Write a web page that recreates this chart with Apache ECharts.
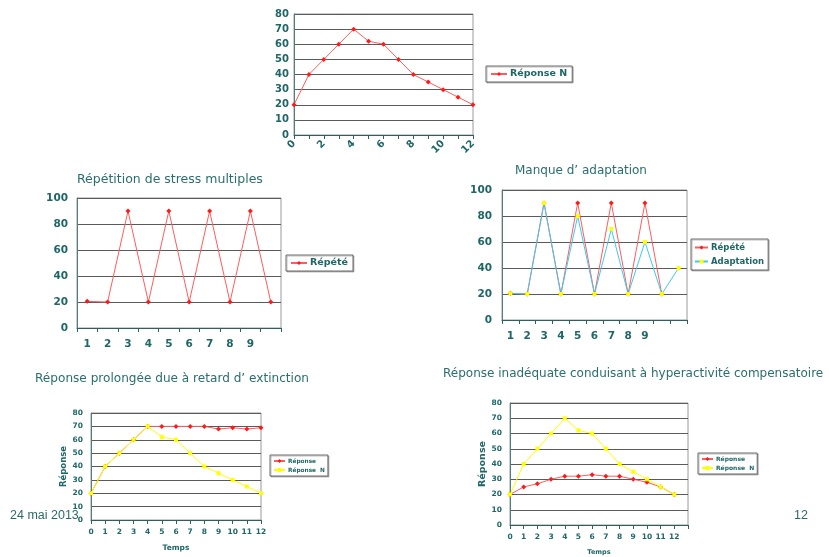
<!DOCTYPE html>
<html>
<head>
<meta charset="utf-8">
<script src="https://cdn.jsdelivr.net/npm/echarts@6/dist/echarts.min.js"></script>
<style>
html,body{margin:0;padding:0;background:#fff;}
#c{width:829px;height:557px;}
</style>
</head>
<body>
<div id="c"></div>
<script>
// ---------- DATA ----------
const timeCats = ['0','1','2','3','4','5','6','7','8','9','10','11','12'];
const timeCats14 = ['0','1','2','3','4','5','6','7','8','9','10','11','12',''];
const reponseN = [20,40,50,60,70,62,60,50,40,35,30,25,20];

const repCats10 = ['1','2','3','4','5','6','7','8','9',''];
const repete = [20.5,20,90,20,90,20,90,20,90,20];

const adaptCats11 = ['1','2','3','4','5','6','7','8','9','',''];
const repete3 = [20.5,20,90,20,90,20,90,20,90,20,null];
const adaptation = [20.5,20,90,20,80,20,70,20,60,20,40];

const reponseProlongee = [20,40,50,60,70,70,70,70,70,68,69,68,69];
const reponseInadequate = [20,25,27,30,32,32,33,32,32,30,28,25,20];

const titles = [
  'Répétition de stress multiples',
  'Manque d\u2019 adaptation',
  'Réponse prolongée due à retard d\u2019 extinction',
  'Réponse inadéquate conduisant à hyperactivité compensatoire'
];
const dateText = '24 mai 2013';
const pageText = '12';

// ---------- STYLE ----------
const FONT = '"DejaVu Sans", sans-serif';
const TEAL = '#1f6666';
const RED_LINE = '#ff5c5c';
const RED_MK = '#ff1a1a';
const YEL = '#ffff00';
const BLUE = '#40c8f4';

const legendLabels = {
  s1: 'Réponse N', s2: 'Répété', s3a: 'Répété', s3b: 'Adaptation',
  s4a: 'Réponse', s4b: 'Réponse  N', s5a: 'Réponse', s5b: 'Réponse  N'
};

function yAx(gi, max, interval, fs, margin, name, nameGap, nameFs) {
  const o = {
    type: 'value', gridIndex: gi, min: 0, max: max, interval: interval,
    axisLine: {show: true, lineStyle: {color: '#4f7f7f', width: 1}},
    axisTick: {show: false},
    axisLabel: {color: TEAL, fontSize: fs, fontWeight: 'bold', fontFamily: FONT, margin: margin},
    splitLine: {show: true, lineStyle: {color: '#5a5a5a', width: 1}}
  };
  if (name) {
    o.name = name; o.nameLocation = 'middle'; o.nameRotate = 90; o.nameGap = nameGap;
    o.nameTextStyle = {color: TEAL, fontSize: nameFs, fontWeight: 'bold', fontFamily: FONT};
  }
  return o;
}
function xAx(gi, cats, gap, fs, margin, extra) {
  const o = {
    type: 'category', gridIndex: gi, data: cats, boundaryGap: gap,
    axisLine: {show: true, lineStyle: {color: '#2f5f5f', width: 1}},
    axisTick: {show: true, interval: 0, length: 4, lineStyle: {color: '#2f5f5f'}},
    axisLabel: {color: TEAL, fontSize: fs, fontWeight: 'bold', fontFamily: FONT, margin: margin, interval: 0},
    splitLine: {show: false}
  };
  return Object.assign(o, extra || {});
}
function redSeries(id, xi, data) {
  return {
    type: 'line', name: id, xAxisIndex: xi, yAxisIndex: xi, data: data,
    symbol: 'diamond', symbolSize: 5, showAllSymbol: true,
    lineStyle: {color: RED_LINE, width: 1}, itemStyle: {color: RED_MK},
    emphasis: {disabled: true}, connectNulls: false
  };
}
function yelSeries(id, xi, data, lineColor) {
  return {
    type: 'line', name: id, xAxisIndex: xi, yAxisIndex: xi, data: data,
    symbol: 'rect', symbolSize: 4, showAllSymbol: true,
    lineStyle: {color: lineColor || YEL, width: 1}, itemStyle: {color: YEL},
    emphasis: {disabled: true}
  };
}
function leg(ids, left, top, fs, gap, pad, iw) {
  return {
    data: ids, left: left, top: top, orient: 'vertical',
    itemWidth: iw, itemHeight: 5, itemGap: gap, padding: pad,
    borderColor: '#6a6a6a', borderWidth: 1, backgroundColor: '#fff',
    shadowColor: 'rgba(0,0,0,0.25)', shadowOffsetX: 1, shadowOffsetY: 1,
    selectedMode: false,
    textStyle: {color: TEAL, fontSize: fs, fontWeight: 'bold', fontFamily: FONT, padding: [0,0,0,-2]},
    formatter: n => legendLabels[n]
  };
}
function ttl(text, left, top, fs) {
  return {text: text, left: left, top: top, padding: 0,
    textStyle: {color: '#2a6e6e', fontSize: fs, fontWeight: 'normal', fontFamily: FONT}};
}
const gridBase = {show: true, borderColor: '#9a9a9a', borderWidth: 1, backgroundColor: '#fff'};

const option = {
  animation: false,
  backgroundColor: '#fff',
  title: [
    ttl(titles[0], 77, 173, 12.5),
    ttl(titles[1], 515, 165, 12),
    ttl(titles[2], 35, 373, 12.1),
    ttl(titles[3], 443, 368, 12)
  ],
  grid: [
    Object.assign({left: 294, top: 14, width: 179, height: 121}, gridBase),
    Object.assign({left: 77, top: 198, width: 204, height: 130}, gridBase),
    Object.assign({left: 502, top: 190, width: 185, height: 130}, gridBase),
    Object.assign({left: 91, top: 413, width: 170, height: 107}, gridBase),
    Object.assign({left: 510, top: 403, width: 178, height: 122}, gridBase)
  ],
  xAxis: [
    xAx(0, timeCats, false, 10, 4, {axisLabel: {color: TEAL, fontSize: 10, fontWeight: 'bold', fontFamily: FONT, margin: 7, interval: 1, rotate: 45}}),
    xAx(1, repCats10, true, 10.5, 11),
    xAx(2, adaptCats11, true, 10.5, 11),
    xAx(3, timeCats, false, 7.5, 8),
    xAx(4, timeCats14, false, 7.5, 8)
  ],
  yAxis: [
    yAx(0, 80, 10, 10, 5),
    yAx(1, 100, 20, 10.5, 9),
    yAx(2, 100, 20, 10.5, 10),
    yAx(3, 80, 10, 7.5, 8, 'Réponse', 21, 8.5),
    yAx(4, 80, 10, 7.5, 8, 'Réponse', 22, 9.5)
  ],
  legend: [
    leg(['s1'], 486, 66, 9.5, 4, [3,5,3,4], 16),
    leg(['s2'], 286, 255, 9.5, 4, [3,5,3,4], 16),
    leg(['s3a','s3b'], 691, 239, 8.5, 5, [4,4,4,3], 13),
    leg(['s4a','s4b'], 270, 455, 5.8, 3, [3,3,3,3], 11),
    leg(['s5a','s5b'], 698, 453, 6, 3, [3,3,3,3], 11)
  ],
  series: [
    redSeries('s1', 0, reponseN),
    redSeries('s2', 1, repete),
    redSeries('s3a', 2, repete3),
    yelSeries('s3b', 2, adaptation, BLUE),
    redSeries('s4a', 3, reponseProlongee),
    yelSeries('s4b', 3, reponseN),
    redSeries('s5a', 4, reponseInadequate),
    yelSeries('s5b', 4, reponseN)
  ],
  graphic: [
    {type: 'text', left: 10, top: 509, style: {text: dateText, fill: '#2a6a6a', font: '12.5px "Liberation Sans", Arial, sans-serif'}},
    {type: 'text', left: 794, top: 509, style: {text: pageText, fill: '#2a6a6a', font: '12.5px "Liberation Sans", Arial, sans-serif'}}
  ]
};
// x-axis names for the two lower charts
option.xAxis[3].name = 'Temps'; option.xAxis[3].nameLocation = 'middle'; option.xAxis[3].nameGap = 24;
option.xAxis[3].nameTextStyle = {color: TEAL, fontSize: 7.5, fontWeight: 'bold', fontFamily: FONT};
option.xAxis[4].name = 'Temps'; option.xAxis[4].nameLocation = 'middle'; option.xAxis[4].nameGap = 24;
option.xAxis[4].nameTextStyle = {color: TEAL, fontSize: 6.5, fontWeight: 'bold', fontFamily: FONT};

const chart = echarts.init(document.getElementById('c'), null, {renderer: 'canvas'});
chart.setOption(option);
</script>
</body>
</html>
